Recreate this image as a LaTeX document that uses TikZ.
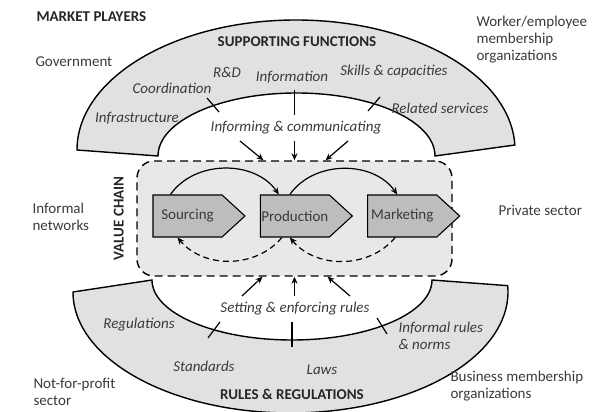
\documentclass[tikz,border=0pt]{standalone}
\usepackage{fontspec}
\setmainfont{Carlito}
\usetikzlibrary{arrows.meta, positioning, shapes.symbols}
\definecolor{bandgray}{HTML}{E1E1E1}
\definecolor{boxgray}{HTML}{E8E8E8}
\definecolor{chevgray}{HTML}{BDBDBD}
\definecolor{txtgray}{HTML}{3A3A3A}
\newcommand{\lblsize}{\fontsize{15}{17}\selectfont}
\tikzset{
    >={Stealth[length=7pt,width=6pt]},
    band/.style={draw, line width=1.4pt, fill=bandgray},
    chev/.style={signal, signal to=east, signal pointer angle=85, draw,
        line width=1.1pt, fill=chevgray, minimum width=92pt,
        minimum height=42pt, inner sep=0pt, font=\lblsize, text=txtgray},
    func/.style={font=\lblsize\itshape, text=txtgray},
    heading/.style={font=\lblsize\bfseries, text=black!85},
    player/.style={font=\lblsize, align=left, anchor=west, text=txtgray},
    tickmark/.style={line width=1.2pt},
    flow/.style={->, line width=1.2pt},
    backflow/.style={flow, dash pattern=on 6pt off 4pt}
}

\begin{document}
\begin{tikzpicture}[x=1pt, y=1pt]
        \useasboundingbox (0,0) rectangle (595,412);

        % supporting functions (top band)
        \draw[band] (77,262) arc[start angle=180, end angle=2.2, x radius=219, y radius=130]
            -- (435,256) arc[start angle=0, end angle=180, x radius=138.5, y radius=63] -- cycle;
        % rules & regulations (bottom band)
        \draw[band] (73,120) arc[start angle=180, end angle=363, x radius=217.5, y radius=121]
            -- (432,132) arc[start angle=0, end angle=-180, x radius=140, y radius=60] -- cycle;

        % value chain
        \node (vc) [draw, line width=1.4pt, dash pattern=on 8pt off 5pt, rounded corners=17pt,
            fill=boxgray, minimum width=315pt, minimum height=115pt] at (294.5,193.5) {};
        \node (vclabel) [heading, rotate=90, anchor=south] at ([xshift=-9pt]vc.west) {VALUE CHAIN};

        \node (src) [chev] at (187.5,196) {Sourcing};
        \node (prod) [chev, right=14pt of src] {Production};
        \node (mkt) [chev, right=14pt of prod] {Marketing};

        \draw
            ([xshift=-17pt]src.north) edge[flow, bend left=55] ([xshift=-16pt]prod.north)
            ([xshift=-5pt]prod.north) edge[flow, bend left=55] ([xshift=-5pt]mkt.north)
            ([xshift=-7pt]mkt.south) edge[backflow, bend left=50] ([xshift=-5pt]prod.south)
            ([xshift=-13pt]prod.south) edge[backflow, bend left=50] ([xshift=-10pt]src.south)
            ;

        % market players
        \node (mp) [heading, anchor=west] at (33,395) {MARKET PLAYERS};
        \node (gov) [player] at (32,350) {Government};
        \node (wrk) [player] at (473,372) {Worker/employee\\membership\\organizations};
        \node (inet) [player] at (29,195) {Informal\\networks};
        \node (priv) [player] at (495,202) {Private sector};
        \node (nfp) [player] at (30,20) {Not-for-profit\\sector};
        \node (bmo) [player] at (447,26) {Business membership\\organizations};

        % supporting functions
        \node (sf) [heading] at (297,370) {SUPPORTING FUNCTIONS};
        \node (rd) [func] at (227,340) {R\&D};
        \node (info) [func] at (292,335) {Information};
        \node (skill) [func] at (394,340) {Skills \& capacities};
        \node (coord) [func] at (172,324) {Coordination};
        \node (infra) [func] at (137,294) {Infrastructure};
        \node (rel) [func] at (440,304) {Related services};
        \node (ic) [func] at (296,284) {Informing \& communicating};

        \draw[tickmark] (213,307) ++(-6,7) -- ++(12,-14);
        \draw[tickmark] (294.5,322) -- (294.5,297);
        \draw[tickmark] (374,308) ++(-6,-7) -- ++(12,14);

        \coordinate (ic1) at (240,271);
        \coordinate (ic2) at (294.5,271);
        \coordinate (ic3) at (348,271);
        \draw
            (ic1) edge[flow] ([xshift=-31pt]vc.north)
            (ic2) edge[flow] (vc.north)
            (ic3) edge[flow] ([xshift=31pt]vc.north)
            ;

        % rules & regulations
        \node (rr) [heading] at (292,18) {RULES \& REGULATIONS};
        \node (set) [func] at (295,103) {Setting \& enforcing rules};
        \node (reg) [func] at (139,87) {Regulations};
        \node (std) [func] at (204,46) {Standards};
        \node (laws) [func] at (322,42) {Laws};
        \node (irn) [func, align=left, anchor=west] at (395,76) {Informal rules\\\& norms};

        \draw[tickmark] (214,82) ++(-6,-8) -- ++(12,16);
        \draw[tickmark] (292,90) -- (292,65);
        \draw[tickmark] (382,86) ++(-5,8) -- ++(10,-16);

        \coordinate (se1) at (242,116);
        \coordinate (se2) at (294.5,116);
        \coordinate (se3) at (350,116);
        \draw
            (se1) edge[flow] ([xshift=-32pt]vc.south)
            (se2) edge[flow] (vc.south)
            (se3) edge[flow] ([xshift=33pt]vc.south)
            ;
    \end{tikzpicture}
\end{document}
